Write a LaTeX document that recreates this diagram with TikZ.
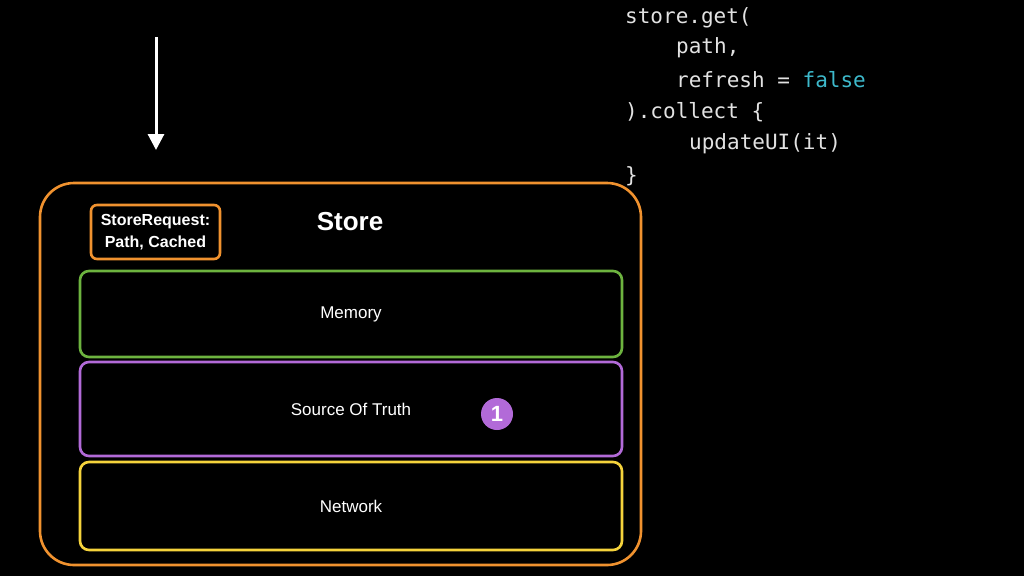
\documentclass[tikz,border=0pt]{standalone}
\usepackage{fontspec}
\setmainfont{Liberation Sans}
\setmonofont{DejaVu Sans Mono}
\usetikzlibrary{arrows.meta}

\definecolor{storeorange}{HTML}{F0922F}
\definecolor{memgreen}{HTML}{6DB33F}
\definecolor{sotpurple}{HTML}{B26AD8}
\definecolor{netyellow}{HTML}{F5D33C}
\definecolor{codegray}{HTML}{E2E2E2}
\definecolor{codecyan}{HTML}{3DB9CB}

\begin{document}
\begin{tikzpicture}
[
	x=1pt,y=-1pt,
	layer/.style={draw,line width=2.6pt,rounded corners=9pt,minimum width=542pt,
		inner sep=0pt,text=white,font=\fontsize{17}{20}\selectfont},
	codeline/.style={anchor=west,inner sep=0pt,text=codegray,
		font=\ttfamily\fontsize{21}{24}\selectfont}
]
	\fill[black] (0,0) rectangle (1024,576);
	\useasboundingbox (0,0) rectangle (1024,576);

	% the store
	\node[draw=storeorange,line width=2.6pt,rounded corners=34pt,minimum width=601pt,
		minimum height=382pt,inner sep=0pt] at (340.5,374) (store) {};
	\node[text=white,font=\bfseries\fontsize{26}{28}\selectfont] at (350,222) (storelbl) {Store};
	\node[draw=storeorange,line width=2.6pt,rounded corners=6pt,minimum width=129pt,
		minimum height=54pt,inner sep=0pt,text=white,align=center,
		font=\bfseries\fontsize{16}{22}\selectfont] at (155.5,232) (request) {StoreRequest:\\Path, Cached};

	\node[layer,draw=memgreen,minimum height=86pt] at (351,314) (memory) {Memory};
	\node[layer,draw=sotpurple,minimum height=94pt] at (351,409) (sot) {Source Of Truth};
	\node[layer,draw=netyellow,minimum height=88pt] at (351,506) (network) {Network};

	\node[circle,fill=sotpurple,minimum size=32pt,inner sep=0pt,text=white,
		font=\bfseries\fontsize{22}{24}\selectfont] at (497,414) (step1) {1};

	% request arrow
	\coordinate (arrtop) at (156,37);
	\coordinate (arrbot) at (156,150);
	\draw[white,line width=3pt,-{Triangle[length=16pt,width=16pt]}] (arrtop) -- (arrbot);

	% code
	\node[codeline] at (625,18) (c1) {store.get(};
	\node[codeline] at (676,48) (c2) {path,};
	\node[codeline] at (676,80) (c3) {refresh = \textcolor{codecyan}{false}};
	\node[codeline] at (625,112) (c4) {).collect \{};
	\node[codeline] at (689,144) (c5) {updateUI(it)};
	\node[codeline] at (625,176) (c6) {\}};

\end{tikzpicture}
\end{document}
